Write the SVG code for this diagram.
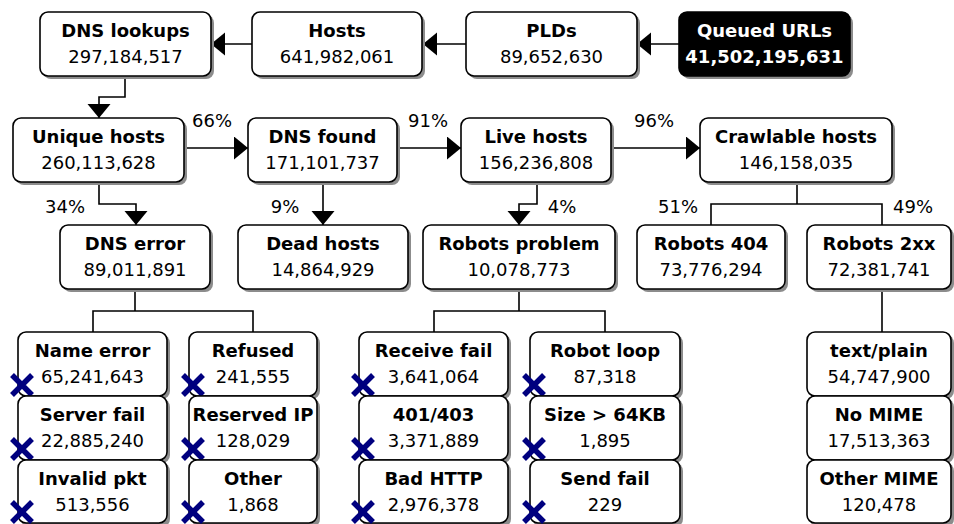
<svg xmlns="http://www.w3.org/2000/svg" width="954" height="524" viewBox="0 0 954 524">
<style>
.box{fill:#fff;stroke:#000;stroke-width:1.6}
.dark{fill:#000;stroke:#000;stroke-width:1.6}
.sh{fill:#8c8c8c;stroke:none}
.t{font-family:"DejaVu Sans","Liberation Sans",sans-serif;font-size:18px;font-weight:bold;text-anchor:middle;fill:#000}
.n{font-family:"DejaVu Sans","Liberation Sans",sans-serif;font-size:18px;text-anchor:middle;fill:#000}
.w{fill:#fff}
.p{font-family:"DejaVu Sans","Liberation Sans",sans-serif;font-size:18px;text-anchor:middle;fill:#000}
.c{fill:none;stroke:#000;stroke-width:1.6}
.x{stroke:#00007f;stroke-width:5.5;stroke-linecap:butt}
</style>
<defs>
<marker id="ah" markerUnits="userSpaceOnUse" markerWidth="15" markerHeight="24" refX="14" refY="11.5" orient="auto" viewBox="0 0 15 24">
<path d="M0,0 L14,11.5 L0,23 z" fill="#000"/>
</marker>
<symbol id="xm" overflow="visible"><path class="x" d="M-10,-10 L10,10 M10,-10 L-10,10"/></symbol>
</defs>

<g id="connectors">
<path class="c" d="M679,44 H637" marker-end="url(#ah)"/>
<path class="c" d="M466,44 H423" marker-end="url(#ah)"/>
<path class="c" d="M252,44 H211" marker-end="url(#ah)"/>
<path class="c" d="M125,76 V97 H99 V118" marker-end="url(#ah)"/>
<path class="c" d="M184,148 H248" marker-end="url(#ah)"/>
<path class="c" d="M397,148 H461" marker-end="url(#ah)"/>
<path class="c" d="M611,148 H700" marker-end="url(#ah)"/>
<path class="c" d="M99,182 V204 H136 V225" marker-end="url(#ah)"/>
<path class="c" d="M323,182 V225" marker-end="url(#ah)"/>
<path class="c" d="M537,182 V204 H519 V225" marker-end="url(#ah)"/>
<path class="c" d="M797,182 V204 M711,225 V204 H882 V225"/>
<path class="c" d="M135,289 V311 M93,332 V311 H253 V332"/>
<path class="c" d="M519,289 V311 M434,332 V311 H605 V332"/>
<path class="c" d="M882,289 V332"/>
<text class="p" x="212" y="127">66%</text>
<text class="p" x="428" y="127">91%</text>
<text class="p" x="654" y="127">96%</text>
<text class="p" x="65" y="213">34%</text>
<text class="p" x="285" y="213">9%</text>
<text class="p" x="562" y="213">4%</text>
<text class="p" x="678" y="213">51%</text>
<text class="p" x="913" y="213">49%</text>
</g>

<g id="dns-lookups"><rect class="sh" x="43" y="15" width="171" height="64" rx="8"/><rect class="box" x="40" y="12" width="171" height="64" rx="8"/><text class="t" x="125.5" y="37">DNS lookups</text><text class="n" x="125.5" y="63">297,184,517</text></g>
<g id="hosts"><rect class="sh" x="255" y="15" width="170" height="64" rx="8"/><rect class="box" x="252" y="12" width="170" height="64" rx="8"/><text class="t" x="337" y="37">Hosts</text><text class="n" x="337" y="63">641,982,061</text></g>
<g id="plds"><rect class="sh" x="469" y="15" width="171" height="64" rx="8"/><rect class="box" x="466" y="12" width="171" height="64" rx="8"/><text class="t" x="551.5" y="37">PLDs</text><text class="n" x="551.5" y="63">89,652,630</text></g>
<g id="queued-urls"><rect class="sh" x="682" y="15" width="171" height="64" rx="8"/><rect class="dark" x="679" y="12" width="171" height="64" rx="8"/><text class="t w" x="764.5" y="37">Queued URLs</text><text class="t w" x="764.5" y="63">41,502,195,631</text></g>

<g id="unique-hosts"><rect class="sh" x="16" y="121" width="171" height="64" rx="8"/><rect class="box" x="13" y="118" width="171" height="64" rx="8"/><text class="t" x="98.5" y="143">Unique hosts</text><text class="n" x="98.5" y="169">260,113,628</text></g>
<g id="dns-found"><rect class="sh" x="251" y="121" width="149" height="64" rx="8"/><rect class="box" x="248" y="118" width="149" height="64" rx="8"/><text class="t" x="322.5" y="143">DNS found</text><text class="n" x="322.5" y="169">171,101,737</text></g>
<g id="live-hosts"><rect class="sh" x="464" y="121" width="150" height="64" rx="8"/><rect class="box" x="461" y="118" width="150" height="64" rx="8"/><text class="t" x="536" y="143">Live hosts</text><text class="n" x="536" y="169">156,236,808</text></g>
<g id="crawlable-hosts"><rect class="sh" x="703" y="121" width="192" height="64" rx="8"/><rect class="box" x="700" y="118" width="192" height="64" rx="8"/><text class="t" x="796" y="143">Crawlable hosts</text><text class="n" x="796" y="169">146,158,035</text></g>

<g id="dns-error"><rect class="sh" x="63" y="228" width="150" height="64" rx="8"/><rect class="box" x="60" y="225" width="150" height="64" rx="8"/><text class="t" x="135" y="250">DNS error</text><text class="n" x="135" y="276">89,011,891</text></g>
<g id="dead-hosts"><rect class="sh" x="241" y="228" width="170" height="64" rx="8"/><rect class="box" x="238" y="225" width="170" height="64" rx="8"/><text class="t" x="323" y="250">Dead hosts</text><text class="n" x="323" y="276">14,864,929</text></g>
<g id="robots-problem"><rect class="sh" x="426" y="228" width="192" height="64" rx="8"/><rect class="box" x="423" y="225" width="192" height="64" rx="8"/><text class="t" x="519" y="250">Robots problem</text><text class="n" x="519" y="276">10,078,773</text></g>
<g id="robots-404"><rect class="sh" x="640" y="228" width="148" height="64" rx="8"/><rect class="box" x="637" y="225" width="148" height="64" rx="8"/><text class="t" x="711" y="250">Robots 404</text><text class="n" x="711" y="276">73,776,294</text></g>
<g id="robots-2xx"><rect class="sh" x="810" y="228" width="144" height="64" rx="8"/><rect class="box" x="807" y="225" width="144" height="64" rx="8"/><text class="t" x="879" y="250">Robots 2xx</text><text class="n" x="879" y="276">72,381,741</text></g>

<g id="name-error"><rect class="sh" x="21" y="335" width="149" height="64" rx="8"/><rect class="box" x="18" y="332" width="149" height="64" rx="8"/><text class="t" x="92.5" y="357">Name error</text><text class="n" x="92.5" y="383">65,241,643</text><use href="#xm" x="22" y="385"/></g>
<g id="server-fail"><rect class="sh" x="21" y="399" width="149" height="64" rx="8"/><rect class="box" x="18" y="396" width="149" height="64" rx="8"/><text class="t" x="92.5" y="421">Server fail</text><text class="n" x="92.5" y="447">22,885,240</text><use href="#xm" x="22" y="449"/></g>
<g id="invalid-pkt"><rect class="sh" x="21" y="463" width="149" height="64" rx="8"/><rect class="box" x="18" y="460" width="149" height="63" rx="8"/><text class="t" x="92.5" y="485">Invalid pkt</text><text class="n" x="92.5" y="511">513,556</text><use href="#xm" x="22" y="512"/></g>

<g id="refused"><rect class="sh" x="192" y="335" width="128" height="64" rx="8"/><rect class="box" x="189" y="332" width="128" height="64" rx="8"/><text class="t" x="253" y="357">Refused</text><text class="n" x="253" y="383">241,555</text><use href="#xm" x="193" y="385"/></g>
<g id="reserved-ip"><rect class="sh" x="192" y="399" width="128" height="64" rx="8"/><rect class="box" x="189" y="396" width="128" height="64" rx="8"/><text class="t" x="253" y="421">Reserved IP</text><text class="n" x="253" y="447">128,029</text><use href="#xm" x="193" y="449"/></g>
<g id="other"><rect class="sh" x="192" y="463" width="128" height="64" rx="8"/><rect class="box" x="189" y="460" width="128" height="63" rx="8"/><text class="t" x="253" y="485">Other</text><text class="n" x="253" y="511">1,868</text><use href="#xm" x="193" y="512"/></g>

<g id="receive-fail"><rect class="sh" x="362" y="335" width="149" height="64" rx="8"/><rect class="box" x="359" y="332" width="149" height="64" rx="8"/><text class="t" x="433.5" y="357">Receive fail</text><text class="n" x="433.5" y="383">3,641,064</text><use href="#xm" x="363" y="385"/></g>
<g id="401-403"><rect class="sh" x="362" y="399" width="149" height="64" rx="8"/><rect class="box" x="359" y="396" width="149" height="64" rx="8"/><text class="t" x="433.5" y="421">401/403</text><text class="n" x="433.5" y="447">3,371,889</text><use href="#xm" x="363" y="449"/></g>
<g id="bad-http"><rect class="sh" x="362" y="463" width="149" height="64" rx="8"/><rect class="box" x="359" y="460" width="149" height="63" rx="8"/><text class="t" x="433.5" y="485">Bad HTTP</text><text class="n" x="433.5" y="511">2,976,378</text><use href="#xm" x="363" y="512"/></g>

<g id="robot-loop"><rect class="sh" x="533" y="335" width="150" height="64" rx="8"/><rect class="box" x="530" y="332" width="150" height="64" rx="8"/><text class="t" x="605" y="357">Robot loop</text><text class="n" x="605" y="383">87,318</text><use href="#xm" x="534" y="385"/></g>
<g id="size-64kb"><rect class="sh" x="533" y="399" width="150" height="64" rx="8"/><rect class="box" x="530" y="396" width="150" height="64" rx="8"/><text class="t" x="605" y="421">Size &gt; 64KB</text><text class="n" x="605" y="447">1,895</text><use href="#xm" x="534" y="449"/></g>
<g id="send-fail"><rect class="sh" x="533" y="463" width="150" height="64" rx="8"/><rect class="box" x="530" y="460" width="150" height="63" rx="8"/><text class="t" x="605" y="485">Send fail</text><text class="n" x="605" y="511">229</text><use href="#xm" x="534" y="512"/></g>

<g id="text-plain"><rect class="sh" x="810" y="335" width="144" height="64" rx="8"/><rect class="box" x="807" y="332" width="144" height="64" rx="8"/><text class="t" x="879" y="357">text/plain</text><text class="n" x="879" y="383">54,747,900</text></g>
<g id="no-mime"><rect class="sh" x="810" y="399" width="144" height="64" rx="8"/><rect class="box" x="807" y="396" width="144" height="64" rx="8"/><text class="t" x="879" y="421">No MIME</text><text class="n" x="879" y="447">17,513,363</text></g>
<g id="other-mime"><rect class="sh" x="810" y="463" width="144" height="64" rx="8"/><rect class="box" x="807" y="460" width="144" height="63" rx="8"/><text class="t" x="879" y="485">Other MIME</text><text class="n" x="879" y="511">120,478</text></g>
</svg>
